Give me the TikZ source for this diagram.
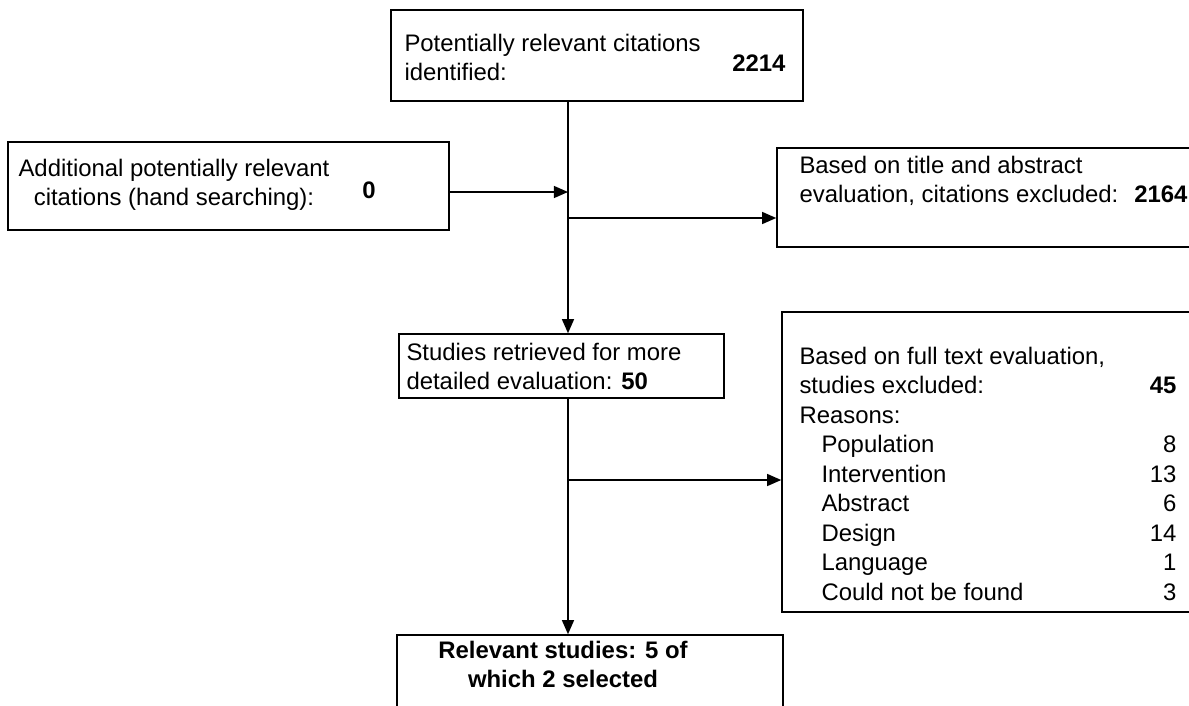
\documentclass[tikz,border=0pt]{standalone}
\usepackage{fontspec}
\setmainfont{Liberation Sans}
\usetikzlibrary{arrows.meta,positioning}

\begin{document}
\begin{tikzpicture}[
    box/.style={draw, line width=1.1pt, inner sep=0pt},
    txt/.style={font=\fontsize{17}{20.6}\selectfont, inner sep=0pt, align=left},
    numtxt/.style={font=\fontsize{17}{20.6}\selectfont\bfseries, inner sep=0pt},
    arr/.style={line width=1.05pt, -{Triangle[length=10pt,width=8.5pt]}}
]
% Frame of the page
\path[use as bounding box, clip] (0,0) rectangle (29.725,-17.625);

% Boxes
\node[box, minimum width=10.3cm, minimum height=2.275cm] (top) at (14.925,-1.3875) {};
\node[box, minimum width=11.025cm, minimum height=2.2cm] (extra) at (5.7125,-4.65) {};
\node[box, minimum width=10.575cm, minimum height=2.475cm] (exclA) at (24.7125,-4.9375) {};
\node[box, minimum width=8.125cm, minimum height=1.6cm] (studies) at (14.0375,-9.15) {};
\node[box, minimum width=10.45cm, minimum height=7.5cm] (exclB) at (24.775,-11.55) {};
\node[box, minimum width=9.65cm, minimum height=3cm] (final) at (14.75,-17.375) {};

% Texts
\node[txt, anchor=west] (toptxt) at ([xshift=0.35cm,yshift=-0.05cm]top.west) {Potentially relevant citations\\identified:};
\node[numtxt, anchor=east] (topnum) at ([xshift=-0.45cm,yshift=-0.19cm]top.east) {2214};

\node[txt, align=center] (extratxt) at ([xshift=-1.3625cm,yshift=0.02cm]extra.center) {Additional potentially relevant\\citations (hand searching):};
\node[numtxt] (extranum) at ([xshift=3.5125cm,yshift=-0.1cm]extra.center) {0};

\node[txt, anchor=west] (exclAtxt) at ([xshift=0.575cm,yshift=0.41cm]exclA.west) {Based on title and abstract\\evaluation, citations excluded:\hspace{0.4cm}\textbf{2164}};

\node[txt, anchor=west] (studiestxt) at ([xshift=0.2cm]studies.west) {Studies retrieved for more\\detailed evaluation: \textbf{50}};

\node[txt, anchor=north west, font=\fontsize{17}{21}\selectfont] (exclBtxt) at ([xshift=0.45cm,yshift=-0.8cm]exclB.north west) {%
\begin{tabular}{@{}p{8.76cm}@{}r@{}}
Based on full text evaluation, & \\
studies excluded: & \textbf{45} \\
Reasons: & \\
\hspace{0.55cm}Population & 8 \\
\hspace{0.55cm}Intervention & 13 \\
\hspace{0.55cm}Abstract & 6 \\
\hspace{0.55cm}Design & 14 \\
\hspace{0.55cm}Language & 1 \\
\hspace{0.55cm}Could not be found & 3 \\
\end{tabular}};

\node[txt, align=center, font=\fontsize{17}{20.6}\selectfont\bfseries] (finaltxt) at ([xshift=-0.675cm,yshift=-0.75cm]final.north) {Relevant studies: 5 of\\which 2 selected};

% Connectors
\coordinate (join) at (14.2,-4.8);
\coordinate (splitA) at (14.2,-5.45);
\coordinate (splitB) at (14.2,-12.0);

\draw[arr] (top.south -| join) -- (studies.north -| join);
\draw[arr] (extra.east |- join) -- (join);
\draw[arr] (splitA) -- (splitA -| exclA.west);
\draw[arr] (studies.south -| splitB) -- (final.north -| splitB);
\draw[arr] (splitB) -- (splitB -| exclB.west);

\end{tikzpicture}
\end{document}
